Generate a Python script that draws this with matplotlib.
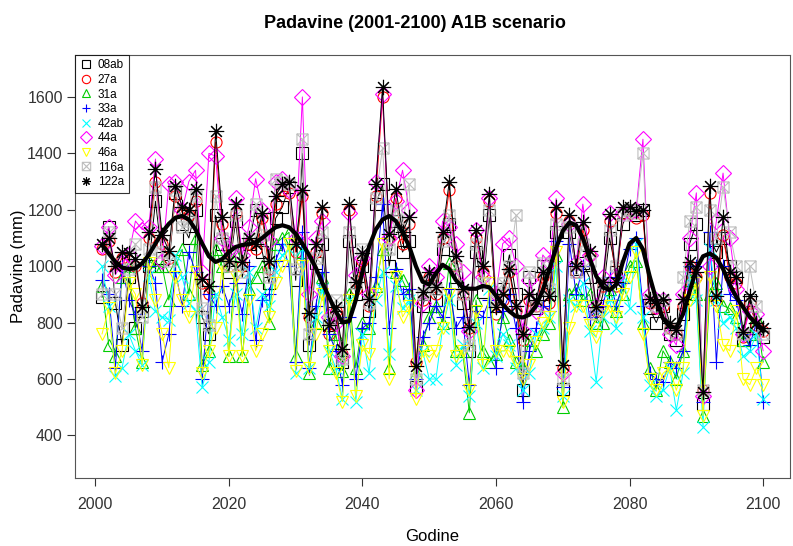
import numpy as np
import matplotlib
matplotlib.use('Agg')
from matplotlib import pyplot as plt
from matplotlib.path import Path

plt.rcParams['font.family'] = ['Liberation Sans', 'DejaVu Sans']

years = list(range(2001, 2101))

s08ab = [890, 1140, 870, 720, 960, 780, 840, 1000, 1230, 1030,
         1000, 1260, 1150, 1100, 1200, 820, 760, 1180, 1080, 980,
         1160, 960, 1080, 1200, 1050, 940, 1170, 1210, 1280, 950,
         1400, 720, 1010, 1080, 790, 820, 660, 1090, 900, 1000,
         840, 1220, 1290, 1000, 1160, 1050, 1090, 570, 860, 930,
         880, 1060, 1150, 960, 870, 700, 1050, 910, 1180, 860,
         920, 1040, 900, 560, 960, 850, 1000, 900, 1120, 565,
         1120, 990, 1010, 960, 800, 900, 1100, 980, 1150, 1200,
         1180, 1200, 850, 800, 860, 760, 740, 830, 1080, 1150,
         510, 1100, 1050, 1100, 1000, 960, 740, 880, 780, 750]
s27a = [1060, 1090, 980, 1030, 1020, 1000, 870, 1100, 1300, 1080,
        1030, 1250, 1190, 1180, 1230, 940, 900, 1440, 1150, 1000,
        1190, 1000, 1080, 1060, 1170, 990, 1220, 1270, 1260, 1050,
        1250, 820, 1050, 1190, 760, 840, 690, 1200, 920, 1020,
        860, 1250, 1600, 1100, 1240, 1080, 1150, 660, 880, 960,
        900, 1100, 1270, 1000, 900, 780, 1100, 980, 1230, 830,
        880, 980, 840, 740, 880, 860, 960, 870, 1190, 640,
        1160, 980, 1130, 1040, 840, 930, 1160, 930, 1190, 1190,
        1170, 1180, 870, 850, 860, 780, 760, 860, 1000, 960,
        560, 1260, 880, 1110, 960, 940, 750, 870, 790, 770]
s31a = [930, 720, 680, 960, 1000, 780, 660, 1020, 1000, 1000,
        880, 1000, 1060, 900, 1100, 650, 700, 1060, 1000, 680,
        1040, 680, 920, 960, 1000, 800, 1080, 1100, 1120, 680,
        1050, 620, 800, 960, 640, 760, 630, 900, 640, 800,
        780, 930, 1060, 640, 980, 950, 900, 620, 720, 820,
        860, 800, 1010, 700, 700, 480, 880, 700, 660, 690,
        820, 740, 660, 640, 740, 700, 760, 800, 1040, 500,
        900, 920, 880, 900, 800, 800, 920, 840, 900, 1000,
        1020, 800, 640, 560, 700, 660, 600, 700, 950, 900,
        470, 900, 940, 860, 850, 820, 740, 760, 820, 660]
s33a = [950, 900, 640, 1000, 880, 830, 700, 1000, 940, 660,
        760, 980, 860, 1050, 980, 600, 900, 860, 930, 860,
        940, 830, 1000, 740, 880, 900, 1020, 1080, 1000, 660,
        1120, 640, 860, 980, 760, 700, 580, 820, 600, 780,
        800, 960, 1220, 780, 990, 900, 920, 600, 750, 800,
        860, 820, 920, 780, 820, 580, 840, 820, 880, 640,
        840, 900, 780, 520, 700, 780, 860, 840, 1090, 570,
        1080, 900, 1000, 820, 840, 860, 960, 860, 940, 1060,
        1100, 860, 620, 600, 590, 660, 640, 700, 1000, 1000,
        520, 1120, 660, 1000, 900, 880, 760, 720, 800, 520]
s42ab = [1000, 860, 610, 640, 760, 700, 650, 970, 840, 820,
         810, 1040, 960, 870, 840, 570, 660, 900, 820, 740,
         900, 760, 980, 780, 900, 860, 980, 1040, 1060, 620,
         1060, 640, 820, 920, 700, 640, 530, 880, 520, 760,
         620, 880, 980, 690, 930, 850, 880, 560, 700, 600,
         600, 780, 880, 650, 720, 540, 800, 640, 920, 680,
         760, 720, 640, 560, 620, 760, 780, 820, 1000, 540,
         880, 860, 940, 770, 590, 820, 880, 780, 960, 850,
         1080, 820, 580, 540, 560, 640, 490, 620, 960, 880,
         430, 1060, 880, 800, 820, 780, 680, 700, 760, 530]
s44a = [1070, 1140, 970, 1010, 1040, 1160, 1130, 1140, 1380, 1020,
        1290, 1300, 1200, 1300, 1340, 980, 1400, 1390, 1100, 1060,
        1240, 1040, 1140, 1310, 1200, 1090, 1300, 1310, 1270, 1100,
        1600, 900, 1100, 1160, 820, 800, 680, 1190, 970, 1030,
        900, 1300, 1610, 1100, 1230, 1340, 1200, 560, 870, 1000,
        960, 1160, 1140, 1080, 980, 770, 1130, 960, 1240, 900,
        1080, 1100, 1000, 770, 950, 840, 1040, 1010, 1240, 620,
        1150, 1010, 1220, 1040, 860, 960, 1190, 960, 1190, 1190,
        1200, 1450, 900, 860, 880, 760, 720, 900, 1100, 1260,
        540, 1000, 1160, 1330, 1100, 920, 760, 840, 830, 700]
s46a = [760, 850, 620, 700, 940, 900, 650, 1010, 880, 760,
        640, 960, 880, 820, 980, 620, 700, 780, 1000, 680,
        960, 680, 880, 700, 760, 820, 940, 1000, 1080, 630,
        1000, 640, 760, 900, 700, 620, 520, 880, 540, 720,
        690, 900, 1080, 600, 960, 820, 860, 530, 700, 680,
        700, 780, 900, 680, 700, 560, 840, 650, 940, 700,
        700, 700, 660, 600, 650, 730, 800, 820, 1050, 520,
        780, 860, 860, 790, 750, 840, 860, 820, 900, 960,
        1050, 760, 600, 560, 620, 640, 560, 640, 880, 940,
        470, 960, 860, 720, 700, 840, 600, 580, 640, 580]
s116a = [900, 1120, 900, 780, 990, 1080, 820, 1060, 1280, 1050,
         1020, 1270, 1140, 1160, 1250, 850, 790, 1250, 1100, 1000,
         1180, 980, 1100, 1220, 1110, 960, 1310, 1300, 1290, 990,
         1450, 760, 1030, 1120, 810, 880, 670, 1120, 940, 1060,
         870, 1240, 1420, 1060, 1200, 1150, 1290, 600, 900, 940,
         920, 1090, 1180, 1000, 900, 720, 1080, 940, 1200, 880,
         940, 1000, 1180, 620, 980, 860, 1010, 920, 1150, 600,
         1140, 980, 1080, 1020, 830, 940, 1130, 1000, 1180, 1200,
         1190, 1400, 880, 860, 880, 780, 760, 960, 1160, 1210,
         560, 1200, 1100, 1280, 1120, 1000, 760, 1000, 860, 760]
s122a = [1080, 1100, 1000, 1050, 1045, 1025, 855, 1120, 1345, 1110,
         1055, 1285, 1210, 1200, 1275, 955, 930, 1480, 1175, 1020,
         1220, 1015, 1100, 1080, 1190, 1020, 1250, 1290, 1300, 1080,
         1270, 835, 1080, 1210, 790, 855, 705, 1220, 945, 1045,
         885, 1290, 1635, 1115, 1275, 1120, 1175, 645, 910, 980,
         925, 1120, 1300, 1035, 920, 785, 1130, 1000, 1255, 855,
         900, 990, 860, 760, 900, 880, 980, 895, 1210, 650,
         1180, 1000, 1155, 1055, 855, 945, 1185, 945, 1210, 1210,
         1195, 1200, 885, 870, 885, 800, 775, 885, 1015, 980,
         555, 1285, 895, 1175, 980, 960, 765, 895, 800, 780]
smooth = [1075, 1045, 1015, 995, 990, 992, 1010, 1040, 1080, 1120,
          1150, 1172, 1178, 1165, 1130, 1080, 1035, 1015, 1025, 1050,
          1068, 1075, 1078, 1085, 1100, 1120, 1138, 1145, 1138, 1115,
          1080, 1040, 995, 940, 890, 840, 800, 805, 880, 980,
          1070, 1130, 1165, 1178, 1160, 1120, 1070, 1000, 945, 935,
          975, 1005, 990, 950, 925, 920, 920, 930, 925, 895,
          865, 840, 822, 818, 828, 860, 915, 990, 1065, 1125,
          1155, 1145, 1100, 1030, 965, 925, 915, 935, 1015, 1080,
          1100, 1060, 965, 880, 815, 785, 782, 830, 910, 990,
          1035, 1045, 1030, 990, 935, 890, 855, 820, 795, 770]

names = ['08ab', '27a', '31a', '33a', '42ab', '44a', '46a', '116a', '122a']
series = [s08ab, s27a, s31a, s33a, s42ab, s44a, s46a, s116a, s122a]
colors = ['black', 'red', '#00CD00', 'blue', 'cyan', 'magenta', 'yellow', '#BEBEBE', 'black']

# R pch 7: square with a cross inside
boxed_x = Path([(-1, -1), (1, -1), (1, 1), (-1, 1), (-1, -1), (-1, -1), (1, 1), (-1, 1), (1, -1)],
               [Path.MOVETO, Path.LINETO, Path.LINETO, Path.LINETO, Path.CLOSEPOLY,
                Path.MOVETO, Path.LINETO, Path.MOVETO, Path.LINETO])
markers = ['s', 'o', '^', '+', 'x', 'D', 'v', boxed_x, (8, 2, 0)]
sizes = [8, 8, 9, 10, 8, 8, 9, 8, 11]

fig = plt.figure(figsize=(7.93, 5.46), dpi=100)
ax = fig.add_axes([0.095, 0.125, 0.901, 0.775])

handles = []
for name, vals, c, m, ms in zip(names, series, colors, markers, sizes):
    filled = m in ('+', 'x') or m == (8, 2, 0)
    ax.plot(years, vals, color=c, lw=0.7, marker=m, ms=ms, mfc='none' if not filled else c,
            mec=c, mew=0.8)
    h, = ax.plot([], [], ls='none', color=c, marker=m, ms=6, mfc='none' if not filled else c,
                 mec=c, mew=0.8, label=name)
    handles.append(h)

ax.plot(years, smooth, color='black', lw=3)

ax.set_xlim(1997, 2104)
ax.set_ylim(250, 1750)
ax.set_xticks(range(2000, 2101, 20))
ax.set_yticks(range(400, 1601, 200))
ax.tick_params(axis='both', direction='out', length=6, labelsize=11.5, colors='#333333')
ax.tick_params(axis='x', pad=8)
ax.tick_params(axis='y', pad=3)
for sp in ax.spines.values():
    sp.set_color('#555555')

ax.set_xlabel('Godine', fontsize=12, labelpad=12)
ax.set_ylabel('Padavine (mm)', fontsize=12, labelpad=1)
fig.text(0.523, 0.957, 'Padavine (2001-2100) A1B scenario', fontsize=13, fontweight='bold',
         ha='center', va='center')

leg = ax.legend(handles=handles, loc='upper left', fontsize=8.5, frameon=True, fancybox=False,
                borderaxespad=0, handlelength=1.0, handletextpad=0.5, labelspacing=0.22,
                borderpad=0.4)
leg.get_frame().set_edgecolor('black')
leg.get_frame().set_linewidth(0.8)

plt.savefig('out.png', dpi=100)
